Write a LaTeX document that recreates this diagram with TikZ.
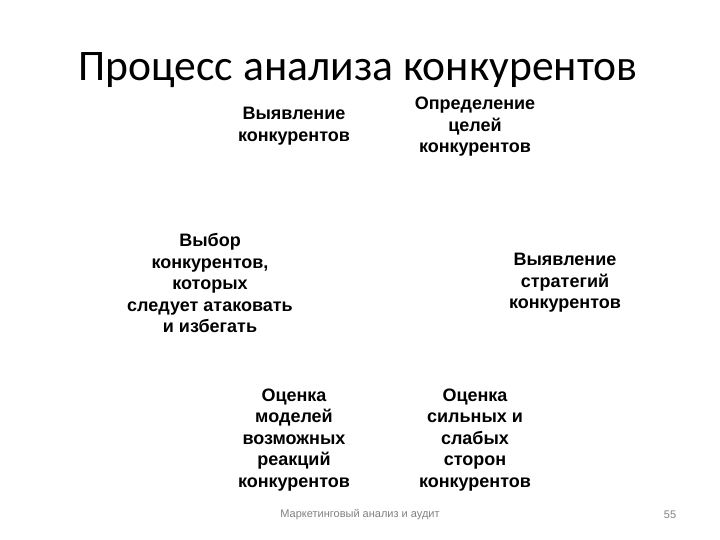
\documentclass[tikz,border=0pt]{standalone}
\usepackage{fontspec}
\setmainfont{Liberation Sans}
\newfontfamily\titlefont{Carlito}
\usepackage{xcolor}
\usetikzlibrary{positioning}

\begin{document}
\begin{tikzpicture}[
    x=1pt, y=-1pt,
    stepbox/.style={align=center, inner sep=0pt, font=\fontsize{18}{21.5}\selectfont\bfseries},
    foot/.style={font=\fontsize{11}{13}\selectfont, text=gray}
]
\useasboundingbox (0,0) rectangle (720,540);

% Title
\node[font=\titlefont\fontsize{43.6}{48}\selectfont] (title) at (358,70) {Процесс анализа конкурентов};

% Steps around the cycle
\node[stepbox] (find) at (294,126) {Выявление\\конкурентов};
\node[stepbox] (goals) at (475,127) {Определение\\целей\\конкурентов};
\node[stepbox] (strat) at (565,283) {Выявление\\стратегий\\конкурентов};
\node[stepbox] (swot) at (475,440) {Оценка\\сильных и\\слабых\\сторон\\конкурентов};
\node[stepbox] (react) at (294,440) {Оценка\\моделей\\возможных\\реакций\\конкурентов};
\node[stepbox] (choose) at (210,283) {Выбор\\конкурентов,\\которых\\следует атаковать\\и избегать};

% Footer
\node[foot] (course) at (360,515) {Маркетинговый анализ и аудит};
\node[foot] (page) at (670,515) {55};

\end{tikzpicture}
\end{document}
